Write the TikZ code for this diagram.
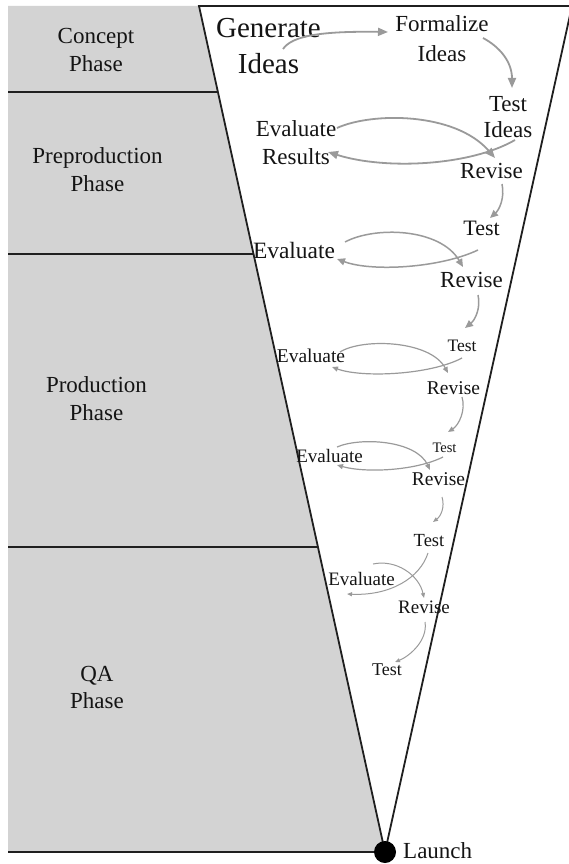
\documentclass[tikz,border=0pt]{standalone}
\usepackage{fontspec}
\setmainfont{Liberation Serif}
\usetikzlibrary{arrows.meta,calc}
\definecolor{phasegray}{HTML}{D3D3D3}
\definecolor{arrowgray}{HTML}{9A9A9A}
\definecolor{ink}{HTML}{141414}
\begin{document}
\begin{tikzpicture}[x=1pt,y=-1pt,
  txt/.style={inner sep=0pt, anchor=base, align=center, text=ink},
  fs/.style 2 args={font=\fontsize{#1}{#2}\selectfont},
  edge/.style={draw=black!88, line width=1.8pt},
  flowL/.style={draw=arrowgray, line width=1.8pt, -{Triangle[length=10pt,width=8pt]}},
  flowM/.style={draw=arrowgray, line width=1.5pt, -{Triangle[length=8pt,width=7pt]}},
  flowS/.style={draw=arrowgray, line width=1.2pt, -{Triangle[length=6pt,width=5pt]}},
  flowXS/.style={draw=arrowgray, line width=1.0pt, -{Triangle[length=5pt,width=4pt]}}]
\useasboundingbox (0,0) rectangle (568,864);
\coordinate (tl) at (199,6);
\coordinate (tr) at (572,6);
\coordinate (apex) at (385,852);
% grey phase band
\fill[phasegray] (8,6) -- (tl) -- (apex) -- (8,852) -- cycle;
% phase dividers
\draw[edge] (8,92) -- (217.9,92);
\draw[edge] (8,254) -- (253.5,254);
\draw[edge] (8,547) -- (317.9,547);
\draw[edge] (8,852) -- (apex);
% funnel
\draw[edge, line join=miter] (apex) -- (tl) -- (tr) -- cycle;
\node[circle, fill=black, minimum size=22pt, inner sep=0pt] (dot) at (apex) {};
\node[txt, fs={23}{28}, anchor=base west] (launch) at (403,858) {Launch};
% phase labels (anchor base = baseline of the last line)
\node[txt, fs={23}{28}] (concept) at (96,72) {Concept\\Phase};
\node[txt, fs={23}{28}] (preprod) at (97.5,191) {Preproduction\\Phase};
\node[txt, fs={23}{28}] (prod) at (96.5,420) {Production\\Phase};
\node[txt, fs={23}{27}] (qa) at (97,708) {QA\\Phase};
% funnel labels
\node[txt, fs={29}{36}] (gen) at (268.5,74) {Generate\\Ideas};
\node[txt, fs={23}{30}] (form) at (442,62) {Formalize\\Ideas};
\node[txt, fs={23}{26}] (testA) at (508,138) {Test\\Ideas};
\node[txt, fs={23}{28}] (evalA) at (296,164) {Evaluate\\Results};
\node[txt, fs={23}{28}] (revA) at (491.5,178) {Revise};
\node[txt, fs={22}{26}] (testB) at (481.5,235) {Test};
\node[txt, fs={23.4}{28}] (evalB) at (294,258) {Evaluate};
\node[txt, fs={23}{28}] (revB) at (471.5,287) {Revise};
\node[txt, fs={17.5}{21}] (testC) at (462,351) {Test};
\node[txt, fs={19.5}{23}] (evalC) at (311,362) {Evaluate};
\node[txt, fs={19.5}{23}] (revC) at (453.5,394) {Revise};
\node[txt, fs={14.5}{17}] (testD) at (444.5,452) {Test};
\node[txt, fs={19}{23}] (evalD) at (329.5,462) {Evaluate};
\node[txt, fs={19.5}{23}] (revD) at (438.5,485) {Revise};
\node[txt, fs={18.5}{22}] (testE) at (429,546) {Test};
\node[txt, fs={19}{23}] (evalE) at (361.5,585) {Evaluate};
\node[txt, fs={19}{23}] (revE) at (424,613) {Revise};
\node[txt, fs={18}{22}] (testF) at (387,675) {Test};
% connectors
\draw[flowL] ($(gen.base)+(14.5,-25)$) .. controls (292,36) and (320,31) .. ($(form.base)+(-54,-30)$);
\draw[flowL] ($(form.base)+(41,-24)$) .. controls (500,47) and (512,62) .. ($(testA.base)+(4,-50)$);
\draw[flowL] ($(evalA.base)+(41,-36)$) .. controls (372,112) and (455,112) .. ($(revA.base)+(3.5,-20)$);
\draw[flowL] ($(testA.base)+(7,2)$) .. controls (470,166) and (385,170) .. ($(evalA.base)+(32,-12)$);
\draw[flowM] ($(revA.base)+(10.5,6)$) .. controls (505,198) and (499,210) .. ($(testB.base)+(8.5,-17)$);
\draw[flowM] ($(evalB.base)+(51,-16)$) .. controls (375,226) and (440,228) .. ($(revB.base)+(-8.5,-20)$);
\draw[flowM] ($(testB.base)+(-3.5,15)$) .. controls (440,268) and (372,272) .. ($(evalB.base)+(43,1)$);
\draw[flowM] ($(revB.base)+(6.5,8)$) .. controls (481,308) and (475,320) .. ($(testC.base)+(3,-23)$);
\draw[flowS] ($(evalC.base)+(29,-10)$) .. controls (362,338) and (430,340) .. ($(revC.base)+(-5.5,-21)$);
\draw[flowS] ($(testC.base)+(0,7)$) .. controls (430,375) and (362,378) .. ($(evalC.base)+(21,5)$);
\draw[flowS] ($(revC.base)+(8.5,3)$) .. controls (466,410) and (459,425) .. ($(testD.base)+(3.5,-20)$);
\draw[flowS] ($(evalD.base)+(7.5,-15)$) .. controls (360,437) and (416,440) .. ($(revD.base)+(-8.5,-15)$);
\draw[flowS] ($(testD.base)+(-1.5,5)$) .. controls (415,471) and (365,473) .. ($(evalD.base)+(7.5,3)$);
\draw[flowXS] ($(revD.base)+(3.5,12)$) .. controls (445,507) and (441,516) .. ($(testE.base)+(4,-24)$);
\draw[flowXS] ($(evalE.base)+(11.5,-21)$) .. controls (396,559) and (419,575) .. ($(revE.base)+(0,-15)$);
\draw[flowXS] ($(testE.base)+(-1,7)$) .. controls (420,578) and (390,596) .. ($(evalE.base)+(-14.5,9)$);
\draw[flowXS] ($(revE.base)+(1,9)$) .. controls (428,640) and (410,656) .. ($(testF.base)+(8,-13)$);
\end{tikzpicture}
\end{document}
